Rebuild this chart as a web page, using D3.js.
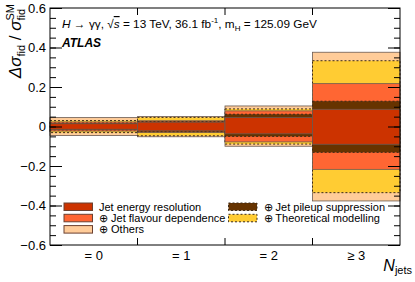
<!DOCTYPE html>
<html>
<head>
<meta charset="utf-8">
<title>Njets uncertainty breakdown</title>
<script src="https://d3js.org/d3.v7.min.js"></script>
<style>
  body { margin: 0; background: #fff; }
  svg text { font-family: "Liberation Sans", Arial, Helvetica, sans-serif; fill: #000; }
</style>
</head>
<body>
<div id="chart"></div>
<script>
// bins of the jet multiplicity
const bins = ["= 0", "= 1", "= 2", "\u2265 3"];

// cumulative (quadrature-summed) relative uncertainties, up / down
const jerUp       = [0.014, 0.022, 0.045, 0.087];
const jerDown     = [-0.014, -0.022, -0.037, -0.090];
const pileupUp    = [0.017, 0.025, 0.062, 0.128];
const pileupDown  = [-0.017, -0.026, -0.050, -0.131];
const flavourUp   = [0.023, 0.029, 0.079, 0.217];
const flavourDown = [-0.023, -0.030, -0.078, -0.217];
const theoryUp    = [0.030, 0.046, 0.089, 0.333];
const theoryDown  = [-0.031, -0.047, -0.089, -0.335];
const othersUp    = [0.045, 0.050, 0.104, 0.376];
const othersDown  = [-0.046, -0.052, -0.100, -0.377];

const yMajor = [-0.6, -0.4, -0.2, 0, 0.2, 0.4, 0.6];

const width = 415, height = 282;
const mLeft = 50, mRight = 400, mTop = 8, mBottom = 245;

const svg = d3.select("#chart").append("svg")
  .attr("width", width).attr("height", height);

const x = d3.scaleBand().domain(bins).range([mLeft, mRight]).paddingInner(0).paddingOuter(0);
const y = d3.scaleLinear().domain([-0.6, 0.6]).range([mBottom, mTop]);

// components, drawn from the outermost box to the innermost one
const layers = [
  {up: othersUp,  down: othersDown,  fill: "#ffcc99", dashed: false},
  {up: theoryUp,  down: theoryDown,  fill: "#ffcc33", dashed: true},
  {up: flavourUp, down: flavourDown, fill: "#ff6633", dashed: false},
  {up: pileupUp,  down: pileupDown,  fill: "#663300", dashed: true},
  {up: jerUp,     down: jerDown,     fill: "#cc3300", dashed: false}
];

const bands = svg.append("g");
layers.forEach(l => {
  bands.append("g").selectAll("rect")
    .data(bins)
    .join("rect")
    .attr("x", d => x(d))
    .attr("width", x.bandwidth())
    .attr("y", (d, i) => y(l.up[i]))
    .attr("height", (d, i) => y(l.down[i]) - y(l.up[i]))
    .attr("fill", l.fill)
    .attr("stroke", l.dashed ? "#3a2a1a" : "#6b5a50")
    .attr("stroke-width", l.dashed ? 1 : 0.8)
    .attr("stroke-dasharray", l.dashed ? "2,2" : null);
});

// legend
const legendItems = [
  {label: "Jet energy resolution",          fill: "#cc3300", dashed: false, col: 0, row: 0},
  {label: "\u2295 Jet flavour dependence",  fill: "#ff6633", dashed: false, col: 0, row: 1},
  {label: "\u2295 Others",                  fill: "#ffcc99", dashed: false, col: 0, row: 2},
  {label: "\u2295 Jet pileup suppression",  fill: "#663300", dashed: true,  col: 1, row: 0},
  {label: "\u2295 Theoretical modelling",   fill: "#ffcc33", dashed: true,  col: 1, row: 1}
];
const legCols = [64, 228.5], legRow0 = 203, legStep = 11.3;
const leg = svg.append("g").selectAll("g")
  .data(legendItems)
  .join("g")
  .attr("transform", d => `translate(${legCols[d.col]},${legRow0 + d.row * legStep})`);
leg.append("rect")
  .attr("width", 28.5).attr("height", 7.5)
  .attr("fill", d => d.fill)
  .attr("stroke", d => d.dashed ? "#3a2a1a" : "#6b4030")
  .attr("stroke-width", 1)
  .attr("stroke-dasharray", d => d.dashed ? "2,2" : null);
leg.append("text")
  .attr("x", 35).attr("y", 7.6)
  .attr("font-size", 11)
  .text(d => d.label);

// y axis, ticks pointing inwards
const yMinor = d3.range(-0.6, 0.6001, 0.05).map(v => +v.toFixed(2));
svg.append("g").attr("transform", `translate(${mLeft},0)`)
  .call(d3.axisLeft(y).tickValues(yMinor).tickSizeInner(-6).tickSizeOuter(0).tickFormat(""))
  .call(g => g.select(".domain").remove());
svg.append("g").attr("transform", `translate(${mLeft},0)`)
  .call(d3.axisLeft(y).tickValues(yMajor).tickSizeInner(-12).tickSizeOuter(0).tickPadding(4)
    .tickFormat(d => d === 0 ? "0" : d3.format(".1f")(d)))
  .call(g => g.select(".domain").remove())
  .call(g => g.selectAll("text").attr("font-size", 13).attr("font-family", "Liberation Sans, Arial, sans-serif"));
svg.append("g").attr("transform", `translate(${mRight},0)`)
  .call(d3.axisRight(y).tickValues(yMinor).tickSizeInner(-6).tickSizeOuter(0).tickFormat(""))
  .call(g => g.select(".domain").remove());
svg.append("g").attr("transform", `translate(${mRight},0)`)
  .call(d3.axisRight(y).tickValues(yMajor).tickSizeInner(-12).tickSizeOuter(0).tickFormat(""))
  .call(g => g.select(".domain").remove());
svg.selectAll(".tick line").attr("stroke", "#000").attr("stroke-width", 1);

// x axis: labels centred in bins, ticks at bin edges (top and bottom)
svg.append("g").attr("transform", `translate(0,${mBottom})`)
  .call(d3.axisBottom(x).tickSize(0).tickPadding(6))
  .call(g => g.select(".domain").remove())
  .call(g => g.selectAll("text").attr("font-size", 13).attr("font-family", "Liberation Sans, Arial, sans-serif"));
const edges = bins.slice(1).map(b => x(b));
svg.append("g").selectAll("line")
  .data(edges)
  .join("line")
  .attr("x1", d => d).attr("x2", d => d)
  .attr("y1", mBottom).attr("y2", mBottom - 7)
  .attr("stroke", "#000");
svg.append("g").selectAll("line")
  .data(edges)
  .join("line")
  .attr("x1", d => d).attr("x2", d => d)
  .attr("y1", mTop).attr("y2", mTop + 7)
  .attr("stroke", "#000");

// frame
svg.append("rect")
  .attr("x", mLeft).attr("y", mTop)
  .attr("width", mRight - mLeft).attr("height", mBottom - mTop)
  .attr("fill", "none").attr("stroke", "#000").attr("stroke-width", 1);

// x title
const xt = svg.append("text")
  .attr("x", 412).attr("y", 271)
  .attr("text-anchor", "end")
  .attr("font-size", 16);
xt.append("tspan").attr("font-style", "italic").text("N");
xt.append("tspan").attr("font-size", 11).attr("dy", 3).text("jets");

// y title
const yt = svg.append("text")
  .attr("transform", "translate(21,4) rotate(-90)")
  .attr("text-anchor", "end")
  .attr("font-size", 17);
yt.append("tspan").attr("font-style", "italic").text("\u0394\u03c3");
yt.append("tspan").attr("font-size", 11).attr("dy", 4).text("fid");
yt.append("tspan").attr("dy", -4).text(" / ");
yt.append("tspan").attr("font-style", "italic").text("\u03c3");
yt.append("tspan").attr("font-size", 11).attr("dy", 4).text("fid");
yt.append("tspan").attr("font-size", 11).attr("dx", -11.6).attr("dy", -11).text("SM");

// header
const hdr = svg.append("text").attr("x", 62).attr("y", 28).attr("font-size", 11.8);
hdr.append("tspan").attr("font-style", "italic").text("H");
hdr.append("tspan").text(" \u2192 \u03b3\u03b3, \u221a");
hdr.append("tspan").attr("font-style", "italic").attr("text-decoration", "overline").text("s");
hdr.append("tspan").text(" = 13 TeV, 36.1 fb");
hdr.append("tspan").attr("font-size", 8).attr("dy", -5).text("-1");
hdr.append("tspan").attr("dy", 5).text(", m");
hdr.append("tspan").attr("font-size", 8).attr("dy", 3).text("H");
hdr.append("tspan").attr("dy", -3).text(" = 125.09 GeV");

svg.append("text")
  .attr("x", 62).attr("y", 47)
  .attr("font-size", 12)
  .attr("font-weight", "bold")
  .attr("font-style", "italic")
  .text("ATLAS");
</script>
</body>
</html>
